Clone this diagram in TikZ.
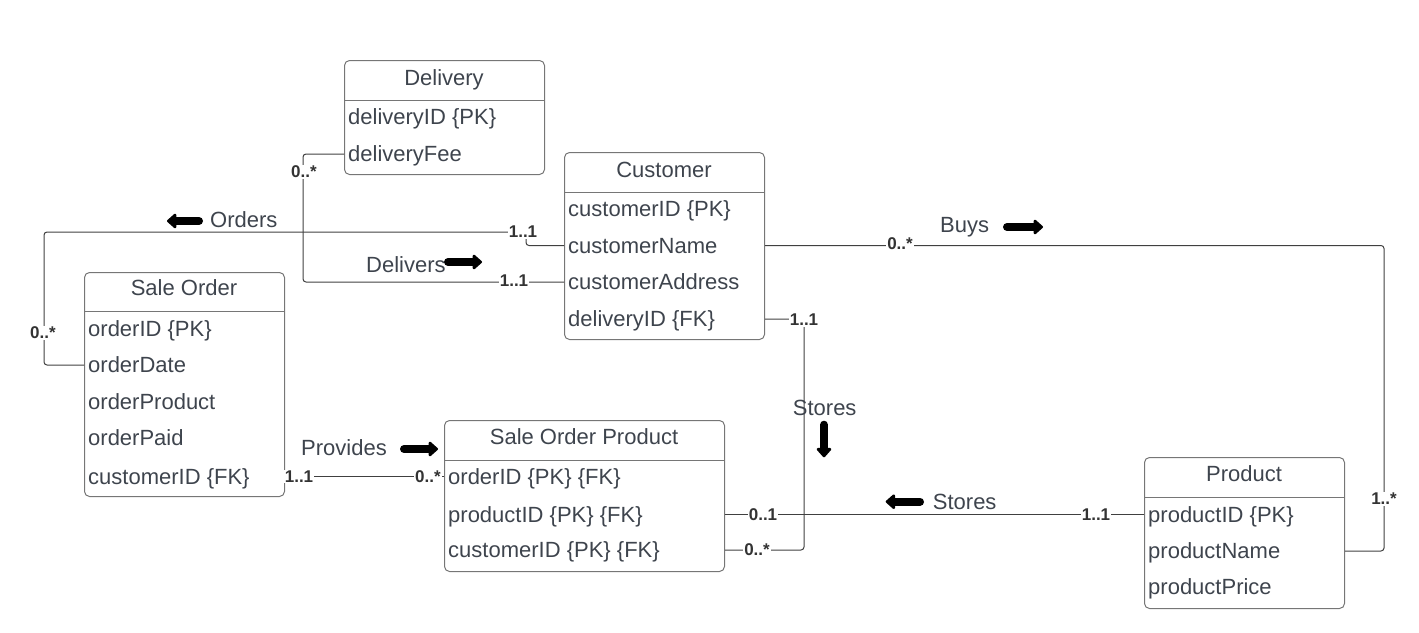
\documentclass[tikz,border=0pt]{standalone}
\usepackage{fontspec}
\setmainfont{Liberation Sans}
\usetikzlibrary{arrows.meta}
\definecolor{txt}{RGB}{62,68,77}
\definecolor{boxc}{RGB}{118,118,118}
\definecolor{linec}{RGB}{64,64,64}
\definecolor{mult}{RGB}{51,51,51}
\tikzset{
  entity/.style={draw=boxc, line width=1pt, rounded corners=5pt, anchor=north west, inner sep=0pt},
  ttl/.style={text=txt, font=\fontsize{22}{26}\selectfont, inner sep=0pt, text height=15pt, text depth=0pt},
  row/.style={text=txt, font=\fontsize{22}{26}\selectfont, anchor=west, inner sep=0pt, text height=15pt, text depth=0pt},
  lbl/.style={text=txt, font=\fontsize{22}{26}\selectfont, anchor=west, inner sep=0pt, text height=15pt, text depth=0pt},
  mul/.style={fill=white, text=mult, font=\bfseries\fontsize{17}{19}\selectfont, inner sep=1pt},
  conn/.style={draw=linec, line width=1pt, rounded corners=3pt},
  hdr/.style={draw=boxc, line width=1pt},
  barrow/.style={line width=8pt, line cap=round, draw=black, -{Triangle[round,length=10pt,width=17pt]}}
}
\begin{document}
\begin{tikzpicture}[x=1pt,y=-1pt]
\useasboundingbox (0,0) rectangle (1419,632);

% Delivery
\node[entity, minimum width=200pt, minimum height=114pt] (del) at (344,60) {};
\draw[hdr] (344,100) -- (544,100);
\node[ttl] (delt) at (444,78) {Delivery};
\node[row] (d1) at (348,117) {deliveryID \{PK\}};
\node[row] (d2) at (348,154) {deliveryFee};

% Customer
\node[entity, minimum width=200pt, minimum height=187pt] (cust) at (564,152) {};
\draw[hdr] (564,192) -- (764,192);
\node[ttl] (custt) at (664,170) {Customer};
\node[row] (c1) at (568,209) {customerID \{PK\}};
\node[row] (c2) at (568,245.5) {customerName};
\node[row] (c3) at (568,282) {customerAddress};
\node[row] (c4) at (568,319) {deliveryID \{FK\}};

% Sale Order
\node[entity, minimum width=200pt, minimum height=224pt] (so) at (84,272) {};
\draw[hdr] (84,311) -- (284,311);
\node[ttl] (sot) at (184,288) {Sale Order};
\node[row] (so1) at (88,329) {orderID \{PK\}};
\node[row] (so2) at (88,365) {orderDate};
\node[row] (so3) at (88,401.5) {orderProduct};
\node[row] (so4) at (88,438) {orderPaid};
\node[row] (so5) at (88,476.5) {customerID \{FK\}};

% Sale Order Product
\node[entity, minimum width=280pt, minimum height=151pt] (sop) at (444,420) {};
\draw[hdr] (444,460) -- (724,460);
\node[ttl] (sopt) at (584,437) {Sale Order Product};
\node[row] (s1) at (448,476.5) {orderID \{PK\} \{FK\}};
\node[row] (s2) at (448,514.5) {productID \{PK\} \{FK\}};
\node[row] (s3) at (448,550) {customerID \{PK\} \{FK\}};

% Product
\node[entity, minimum width=200pt, minimum height=151pt] (prod) at (1144,457) {};
\draw[hdr] (1144,497) -- (1344,497);
\node[ttl] (prodt) at (1244,473.5) {Product};
\node[row] (p1) at (1148,514.5) {productID \{PK\}};
\node[row] (p2) at (1148,551) {productName};
\node[row] (p3) at (1148,587) {productPrice};

% Connectors
\draw[conn] (cust.west |- c2) -- (526,245.5) -- (526,232) -- (44,232) -- (44,365) -- (so.west |- so2);
\draw[conn] (del.west |- d2) -- (303,154) -- (303,282) -- (cust.west |- c3);
\draw[conn] (cust.east |- c2) -- (1384,245.5) -- (1384,551) -- (prod.east |- p2);
\draw[conn] (cust.east |- c4) -- (804,319) -- (804,550) -- (sop.east |- s3);
\draw[conn] (sop.east |- s2) -- (prod.west |- p1);
\draw[conn] (so.east |- so5) -- (sop.west |- s1);

% Multiplicities
\node[mul] (m1) at (523,232) {1..1};
\node[mul] (m2) at (43,333) {0..*};
\node[mul] (m3) at (304,172) {0..*};
\node[mul] (m4) at (514,281) {1..1};
\node[mul] (m5) at (900,244) {0..*};
\node[mul] (m6) at (1384,499) {1..*};
\node[mul] (m7) at (804,320) {1..1};
\node[mul] (m8) at (757,550) {0..*};
\node[mul] (m9) at (763,514.5) {0..1};
\node[mul] (m10) at (1096,514.5) {1..1};
\node[mul] (m11) at (299,476.5) {1..1};
\node[mul] (m12) at (428,476.5) {0..*};

% Relationship labels
\node[lbl] (lorders) at (210,220) {Orders};
\node[lbl] (ldeliv) at (366,265) {Delivers};
\node[lbl] (lprov) at (301,448) {Provides};
\node[lbl] (lbuys) at (940,225) {Buys};
\node[lbl] (lstv) at (792.7,408) {Stores};
\node[lbl] (lsth) at (932.7,501.7) {Stores};

% Direction arrows
\draw[barrow] (199,221) -- (167,221);
\draw[barrow] (448,262) -- (482,262);
\draw[barrow] (404,449) -- (438,449);
\draw[barrow] (1007,227) -- (1043,227);
\draw[barrow] (824,424.7) -- (824,457.3);
\draw[barrow] (920,501.7) -- (885.7,501.7);
\end{tikzpicture}
\end{document}
